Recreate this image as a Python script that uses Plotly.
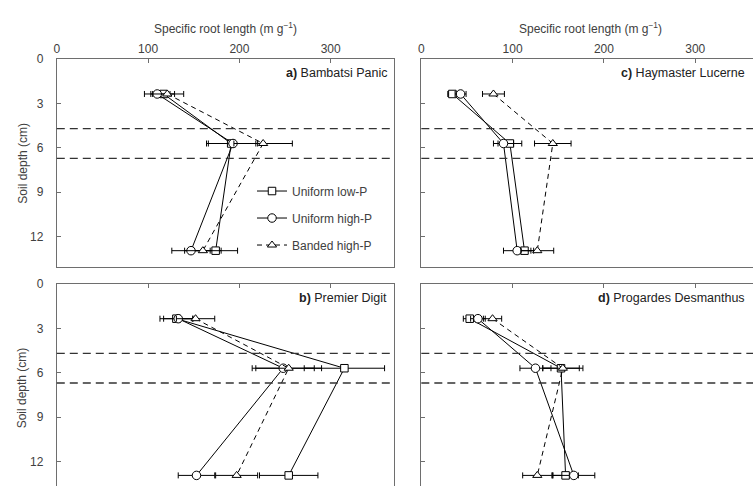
import plotly.graph_objects as go

# Sampling depths (cm) and the banded-P layer boundaries
depth = [2.35, 5.7, 12.95]
band_edges = [4.7, 6.7]

# a) Bambatsi Panic
a_low = [117, 191, 174]
a_low_err = [12, 27, 24]
a_high = [110, 193, 147]
a_high_err = [14, 27, 21]
a_band = [121, 226, 160]
a_band_err = [18, 32, 20]

# b) Premier Digit
b_low = [131, 315, 254]
b_low_err = [18, 44, 32]
b_high = [133, 248, 153]
b_high_err = [16, 34, 20]
b_band = [152, 254, 197]
b_band_err = [21, 36, 23]

# c) Haymaster Lucerne
c_low = [34, 97, 113]
c_low_err = [5, 13, 10]
c_high = [43, 90, 105]
c_high_err = [6, 11, 15]
c_band = [79, 144, 127]
c_band_err = [12, 20, 18]

# d) Progardes Desmanthus
d_low = [53, 153, 158]
d_low_err = [7, 20, 14]
d_high = [62, 125, 167]
d_high_err = [8, 17, 23]
d_band = [78, 155, 127]
d_band_err = [10, 22, 16]

series_names = ["Uniform low-P", "Uniform high-P", "Banded high-P"]
x_ticks = [0, 100, 200, 300]
y_ticks = [0, 3, 6, 9, 12]
x_title = "Specific root length (m g<sup>−1</sup>)"
y_title = "Soil depth (cm)"

W, H = 753, 486
FONT = "Liberation Sans, Arial, sans-serif"
TXT = "#404040"
AX = "#6e6e6e"
PX_PER_X = 0.9167   # pixels per m g-1
PX_PER_Y = 15.0     # pixels per cm

def fx(p):
    return p / W

def fy(p):
    return 1 - p / H

# pixel boxes of each panel: left, right, top, bottom
panels = [
    dict(key="", label="a)", name="Bambatsi Panic", box=(54, 393, 53, 263.3),
         low=a_low, low_err=a_low_err, high=a_high, high_err=a_high_err,
         band=a_band, band_err=a_band_err, xlabels=True, ylabels=True,
         xmirror=True, ymirror=True, legend=True),
    dict(key="2", label="b)", name="Premier Digit", box=(54, 393, 281, 486),
         low=b_low, low_err=b_low_err, high=b_high, high_err=b_high_err,
         band=b_band, band_err=b_band_err, xlabels=False, ylabels=True,
         xmirror=False, ymirror=True, legend=False),
    dict(key="3", label="c)", name="Haymaster Lucerne", box=(420, 753, 53, 263.3),
         low=c_low, low_err=c_low_err, high=c_high, high_err=c_high_err,
         band=c_band, band_err=c_band_err, xlabels=True, ylabels=False,
         xmirror=True, ymirror=False, legend=False),
    dict(key="4", label="d)", name="Progardes Desmanthus", box=(420, 753, 281, 486),
         low=d_low, low_err=d_low_err, high=d_high, high_err=d_high_err,
         band=d_band, band_err=d_band_err, xlabels=False, ylabels=False,
         xmirror=False, ymirror=False, legend=False),
]

fig = go.Figure()
shapes = []
annotations = []
layout_axes = {}

styles = [
    ("low", "square", 7.5, "solid"),
    ("high", "circle", 8.5, "solid"),
    ("band", "triangle-up", 8, "5px,4px"),
]

for p in panels:
    k = p["key"]
    xa, ya = "x" + k, "y" + k
    l, r, t, b = p["box"]
    for i, (field, sym, size, dash) in enumerate(styles):
        fig.add_trace(go.Scatter(
            x=p[field], y=depth, xaxis=xa, yaxis=ya,
            mode="lines+markers",
            name=series_names[i],
            legendgroup=series_names[i],
            showlegend=p["legend"],
            line=dict(color="black", width=1, dash=dash),
            marker=dict(symbol=sym, size=size, color="white",
                        line=dict(color="black", width=1)),
            error_x=dict(type="data", array=p[field + "_err"], visible=True,
                         color="black", thickness=1, width=3),
            cliponaxis=False,
        ))

    common = dict(showgrid=False, zeroline=False, showline=True, linecolor=AX,
                  linewidth=1, ticks="inside", ticklen=4, tickcolor=AX,
                  tickfont=dict(family=FONT, size=12, color=TXT), fixedrange=True)
    layout_axes["xaxis" + k] = dict(
        common, domain=[fx(l), fx(r)], anchor=ya, side="top",
        range=[0, (r - l) / PX_PER_X], tickvals=x_ticks,
        showticklabels=p["xlabels"], mirror=p["xmirror"])
    layout_axes["yaxis" + k] = dict(
        common, domain=[fy(b), fy(t)], anchor=xa,
        range=[(b - t) / PX_PER_Y, 0], tickvals=y_ticks,
        showticklabels=p["ylabels"], mirror=p["ymirror"],
        ticklabelstandoff=10)

    # banded-P layer boundaries
    for e in band_edges:
        shapes.append(dict(type="line", xref=xa + " domain", yref=ya,
                           x0=0, x1=1, y0=e, y1=e,
                           line=dict(color="#333333", width=1.3, dash="8px,5px")))

    # panel label
    label_right = l + 334 if l < 100 else 747
    annotations.append(dict(
        text="<b>" + p["label"] + "</b> " + p["name"], showarrow=False,
        xref="paper", yref="paper", x=fx(label_right), y=fy(t + 14),
        xanchor="right", yanchor="middle",
        font=dict(family=FONT, size=12.5, color="#222222")))

# axis titles
for cx in (223.5, 589.5):
    annotations.append(dict(text=x_title, showarrow=False, xref="paper", yref="paper",
                            x=fx(cx), y=fy(21.5), xanchor="center", yanchor="middle",
                            font=dict(family=FONT, size=12, color=TXT)))
for cy in (158, 386):
    annotations.append(dict(text=y_title, showarrow=False, xref="paper", yref="paper",
                            x=fx(20), y=fy(cy), xanchor="center", yanchor="middle",
                            textangle=-90, font=dict(family=FONT, size=12, color=TXT)))

fig.update_layout(
    width=W, height=H,
    margin=dict(l=0, r=0, t=0, b=0),
    paper_bgcolor="white", plot_bgcolor="white",
    shapes=shapes, annotations=annotations,
    legend=dict(x=fx(250), y=fy(172), xanchor="left", yanchor="top",
                bgcolor="rgba(0,0,0,0)", tracegroupgap=8,
                font=dict(family=FONT, size=12, color=TXT)),
    **layout_axes,
)

fig.write_html("out.html")
